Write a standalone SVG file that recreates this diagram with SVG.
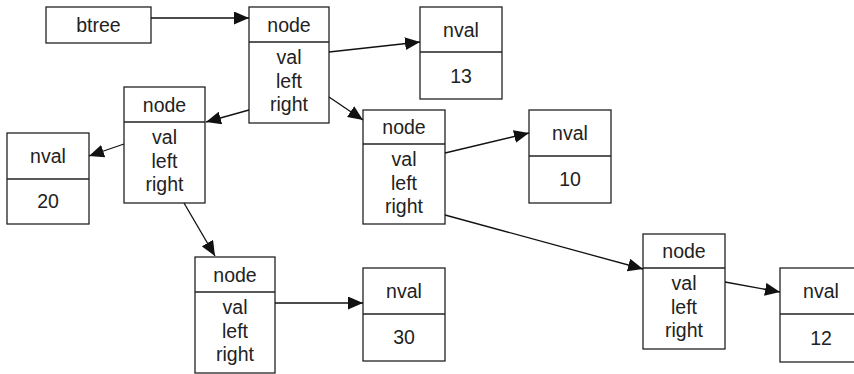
<svg xmlns="http://www.w3.org/2000/svg" width="854" height="374" viewBox="0 0 854 374">
<style>
.box{fill:#fff;stroke:#222;stroke-width:1.3}
.div{stroke:#222;stroke-width:1.3}
text{font-family:"Liberation Sans",Arial,sans-serif;font-size:19.5px;fill:#222;text-anchor:middle}
.conn line{stroke:#111;stroke-width:1.3}
</style>
<defs>
<marker id="ah" markerWidth="16" markerHeight="13" refX="15" refY="6.5" orient="auto" markerUnits="userSpaceOnUse"><path d="M0,0 L15,6.5 L0,13 z" fill="#111"/></marker>
</defs>
<g id="btree"><rect class="box" x="46" y="7" width="105" height="36"/><text x="98.5" y="31.5">btree</text></g>
<g id="node1"><rect class="box" x="249" y="7" width="80" height="116"/><line class="div" x1="249" y1="42" x2="329" y2="42"/><text x="289" y="31.5">node</text><text x="289" y="64">val</text><text x="289" y="87.5">left</text><text x="289" y="111">right</text></g>
<g id="nval13"><rect class="box" x="420" y="7" width="82" height="92"/><line class="div" x1="420" y1="52" x2="502" y2="52"/><text x="461" y="37">nval</text><text x="461" y="83">13</text></g>
<g id="node2"><rect class="box" x="124" y="87" width="81" height="116"/><line class="div" x1="124" y1="122" x2="205" y2="122"/><text x="164.5" y="111.5">node</text><text x="164.5" y="144">val</text><text x="164.5" y="167.5">left</text><text x="164.5" y="191">right</text></g>
<g id="nval20"><rect class="box" x="7" y="133" width="82" height="91"/><line class="div" x1="7" y1="179" x2="89" y2="179"/><text x="48" y="163">nval</text><text x="48" y="208">20</text></g>
<g id="node3"><rect class="box" x="363" y="110" width="82" height="114"/><line class="div" x1="363" y1="144" x2="445" y2="144"/><text x="404" y="134">node</text><text x="404" y="166">val</text><text x="404" y="189.5">left</text><text x="404" y="213">right</text></g>
<g id="nval10"><rect class="box" x="529" y="110" width="82" height="93"/><line class="div" x1="529" y1="156" x2="611" y2="156"/><text x="570" y="140">nval</text><text x="570" y="186">10</text></g>
<g id="node4"><rect class="box" x="195" y="257" width="80" height="116"/><line class="div" x1="195" y1="292" x2="275" y2="292"/><text x="235" y="281.5">node</text><text x="235" y="314">val</text><text x="235" y="337.5">left</text><text x="235" y="361">right</text></g>
<g id="nval30"><rect class="box" x="363" y="268" width="82" height="93"/><line class="div" x1="363" y1="314" x2="445" y2="314"/><text x="404" y="298">nval</text><text x="404" y="344">30</text></g>
<g id="node5"><rect class="box" x="643" y="234" width="82" height="115"/><line class="div" x1="643" y1="268" x2="725" y2="268"/><text x="684" y="258">node</text><text x="684" y="290">val</text><text x="684" y="313.5">left</text><text x="684" y="337">right</text></g>
<g id="nval12"><rect class="box" x="780" y="268" width="82" height="94"/><line class="div" x1="780" y1="314" x2="862" y2="314"/><text x="821" y="298">nval</text><text x="821" y="345">12</text></g>
<g class="conn" id="connectors">
<line x1="151" y1="18" x2="249" y2="18" marker-end="url(#ah)"/>
<line x1="329" y1="52" x2="420" y2="42" marker-end="url(#ah)"/>
<line x1="249" y1="110" x2="206" y2="122" marker-end="url(#ah)"/>
<line x1="329" y1="97" x2="363" y2="120" marker-end="url(#ah)"/>
<line x1="124" y1="144" x2="89" y2="156" marker-end="url(#ah)"/>
<line x1="184" y1="203" x2="215" y2="256" marker-end="url(#ah)"/>
<line x1="445" y1="153" x2="529" y2="133" marker-end="url(#ah)"/>
<line x1="445" y1="215" x2="643" y2="269" marker-end="url(#ah)"/>
<line x1="275" y1="303" x2="363" y2="303" marker-end="url(#ah)"/>
<line x1="725" y1="282" x2="780" y2="292" marker-end="url(#ah)"/>
</g>
</svg>
